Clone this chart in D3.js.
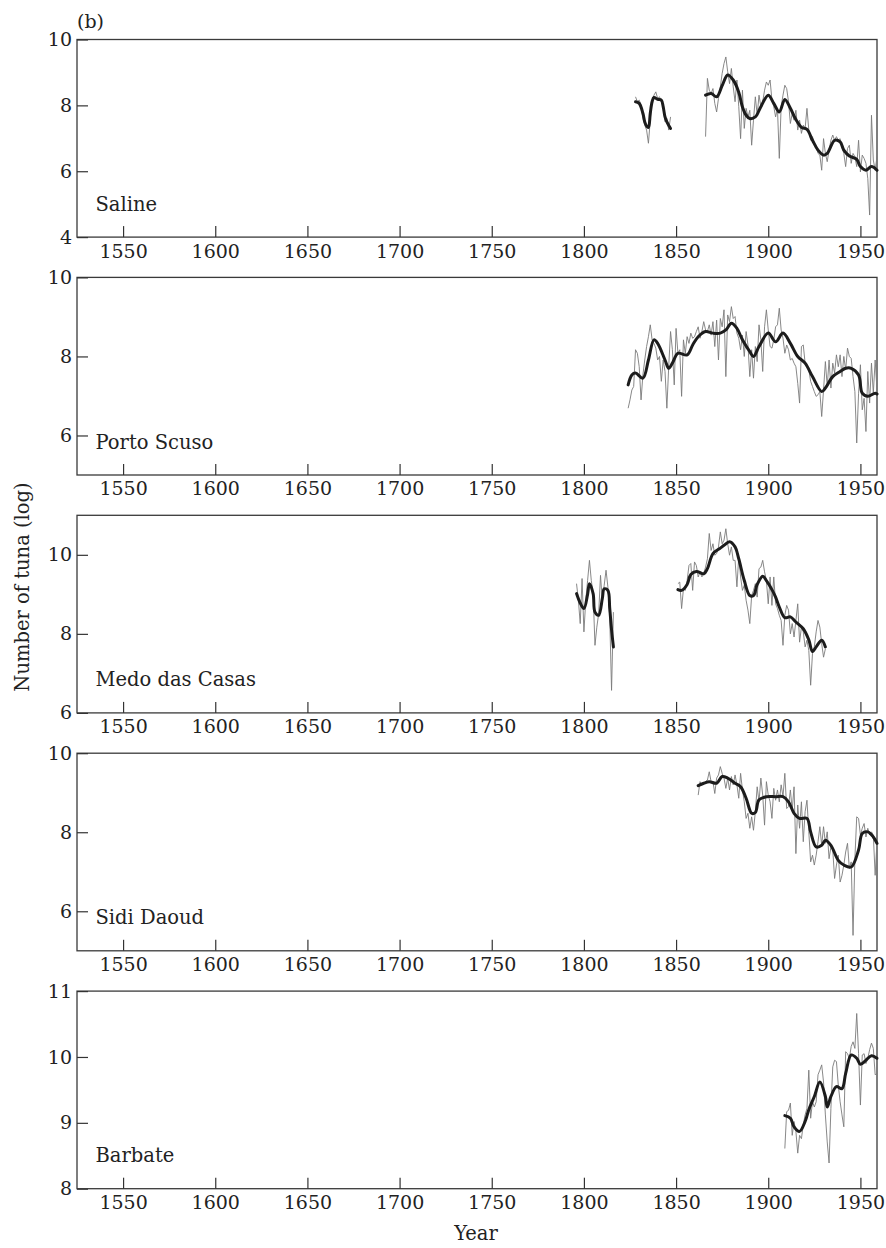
<!DOCTYPE html>
<html>
<head>
<meta charset="utf-8">
<script src="https://cdn.jsdelivr.net/npm/d3@7"></script>
<style>
  html, body { margin: 0; padding: 0; background: #fff; }
  svg { display: block; }
  text { font-family: "DejaVu Serif", "Liberation Serif", serif; fill: #222; }
</style>
</head>
<body>
<svg id="chart" width="886" height="1248"></svg>
<script>
// ---------------- DATA ----------------
const siteNames = ["Saline", "Porto Scuso", "Medo das Casas", "Sidi Daoud", "Barbate"];
const yDomains = [[4, 10], [5, 10], [6, 11], [5, 10], [8, 11]];
const yTickValues = [[4, 6, 8, 10], [6, 8, 10], [6, 8, 10], [6, 8, 10], [8, 9, 10, 11]];
const xTickValues = [1550, 1600, 1650, 1700, 1750, 1800, 1850, 1900, 1950];
const yearDomain = [1525, 1959];

// Saline — annual catches (log)
const salineStartA = 1828;
const salineAnnualA = [8.26, 8.11, 8.16, 8.01, 7.6, 7.4, 7.25, 6.85, 7.55, 8.16, 8.31, 8.41, 8.21, 8.26, 8.11, 7.96, 7.5, 7.6, 7.25, 7.65];
const salineStartB = 1866;
const salineAnnualB = [7.05, 8.82, 8.46, 8.36, 8.51, 8.06, 7.8, 8.21, 8.56, 8.97, 9.27, 9.47, 9.02, 8.66, 9.12, 8.56, 8.11, 8.77, 7.96, 6.99,
  8.46, 7.3, 7.91, 7.65, 7.85, 6.79, 7.55, 8.26, 7.7, 8.31, 7.96, 8.11, 8.46, 8.71, 8.61, 8.77, 8.16, 7.96, 7.65, 7.91,
  6.39, 7.96, 8.31, 8.61, 8.51, 8.11, 7.45, 7.75, 7.55, 7.85, 7.25, 7.55, 7.15, 7.4, 7.3, 7.91, 7.25, 6.94, 7.05, 6.84,
  6.74, 6.54, 6.49, 6.03, 6.99, 6.54, 6.29, 6.64, 6.94, 7.1, 6.94, 7.05, 6.94, 6.99, 6.74, 6.54, 6.14, 6.69, 6.79, 6.24,
  6.54, 6.44, 6.14, 6.94, 5.98, 6.49, 6.39, 6.24, 5.78, 4.67, 7.7, 6.34, 6.03, 6.44];
// Saline — smoothed trend
const salineSmoothYearsA = [1828, 1830, 1832, 1833, 1834, 1835, 1836, 1837, 1838, 1840, 1842, 1843, 1844, 1845, 1847];
const salineSmoothA = [8.11, 8.06, 7.76, 7.5, 7.37, 7.33, 7.76, 8.11, 8.24, 8.18, 8.16, 7.96, 7.65, 7.5, 7.3];
const salineSmoothYearsB = [1866, 1869, 1872, 1875, 1878, 1881, 1884, 1886, 1888, 1890, 1893, 1896, 1900, 1903, 1906, 1909, 1912, 1915, 1918, 1921, 1924, 1927, 1930, 1932, 1936, 1939, 1941, 1944, 1948, 1950, 1953, 1956, 1959];
const salineSmoothB = [8.31, 8.36, 8.26, 8.6, 8.92, 8.77, 8.4, 7.95, 7.7, 7.6, 7.65, 7.96, 8.31, 8.06, 7.8, 8.18, 7.91, 7.57, 7.33, 7.27, 6.94, 6.64, 6.49, 6.54, 6.94, 6.89, 6.64, 6.46, 6.36, 6.14, 6.03, 6.14, 6.03];

// Porto Scuso
const portoStart = 1824;
const portoAnnual = [6.69, 6.9, 7.15, 7.24, 8.17, 8.08, 7.74, 6.9, 7.53, 7.91, 8.25, 8.5, 8.8, 8.42, 8.33, 8.21, 7.91, 8.0, 7.37, 7.91,
  7.62, 6.69, 7.74, 8.63, 8.17, 7.28, 8.71, 8.08, 8.17, 6.99, 8.42, 8.08, 8.5, 8.33, 8.59, 8.46, 8.5, 8.63, 8.75, 8.46,
  8.63, 8.88, 8.67, 8.63, 8.8, 8.54, 8.88, 8.25, 8.92, 7.91, 8.96, 8.75, 9.18, 7.49, 9.05, 8.88, 9.26, 8.96, 9.01, 8.59,
  8.46, 8.17, 8.54, 8.0, 8.63, 8.29, 7.49, 8.17, 7.45, 8.25, 7.87, 8.8, 8.42, 7.62, 8.75, 9.18, 8.67, 8.25, 8.21, 8.42,
  8.75, 8.8, 9.22, 8.67, 8.46, 8.08, 8.29, 8.17, 7.91, 7.95, 7.83, 7.74, 7.32, 6.82, 8.25, 8.29, 7.83, 7.74, 7.66, 7.37,
  7.24, 7.11, 6.99, 7.03, 7.11, 6.48, 7.15, 7.87, 7.24, 7.91, 7.2, 7.83, 7.58, 8.04, 7.74, 8.04, 7.49, 8.0, 7.66, 8.21,
  8.0, 7.95, 7.49, 7.11, 5.81, 7.07, 7.79, 6.65, 6.94, 6.1, 7.62, 6.82, 7.83, 7.07, 7.91, 7.15];
const portoSmoothYears = [1824, 1826, 1828, 1832, 1835, 1838, 1840, 1844, 1846, 1848, 1851, 1856, 1859, 1862, 1866, 1870, 1874, 1877, 1880, 1883, 1886, 1890, 1892, 1895, 1900, 1904, 1908, 1912, 1916, 1920, 1924, 1929, 1931, 1935, 1939, 1942, 1945, 1949, 1951, 1954, 1958, 1959];
const portoSmooth = [7.28, 7.53, 7.58, 7.45, 7.91, 8.42, 8.33, 7.91, 7.7, 7.83, 8.08, 8.04, 8.29, 8.5, 8.63, 8.59, 8.59, 8.67, 8.84, 8.71, 8.42, 8.12, 8.0, 8.25, 8.59, 8.37, 8.59, 8.33, 8.0, 7.83, 7.49, 7.11, 7.2, 7.49, 7.62, 7.7, 7.7, 7.53, 7.07, 6.99, 7.07, 7.05];

// Medo das Casas
const medoStartA = 1796;
const medoAnnualA = [9.27, 8.85, 8.26, 9.4, 8.05, 8.85, 9.35, 9.86, 9.35, 9.02, 7.71, 8.17, 8.51, 9.48, 8.81, 9.23, 9.61, 9.19, 8.43, 6.57, 8.55];
const medoStartB = 1851;
const medoAnnualB = [9.27, 9.31, 8.64, 9.14, 9.1, 9.35, 9.73, 9.78, 9.1, 9.82, 9.73, 9.44, 9.57, 9.44, 9.52, 9.69, 9.9, 10.54, 10.11, 10.28,
  9.99, 10.03, 10.2, 10.58, 10.28, 10.37, 10.66, 10.28, 9.99, 10.2, 9.86, 9.86, 9.19, 9.95, 9.44, 9.1, 9.23, 8.85, 8.6, 8.26,
  8.97, 9.1, 9.27, 8.93, 9.65, 9.69, 9.86, 9.57, 9.35, 8.76, 9.44, 8.72, 9.44, 8.76, 8.64, 8.47, 8.34, 7.71, 8.47, 8.72,
  8.6, 8.0, 8.26, 7.92, 8.34, 8.76, 7.79, 8.17, 8.05, 7.67, 7.84, 7.58, 6.7, 7.5, 7.67, 8.05, 8.34, 8.17, 7.75, 7.41, 7.62];
const medoSmoothYearsA = [1796, 1798, 1800, 1802, 1803, 1805, 1806, 1808, 1810, 1811, 1813, 1814, 1815, 1816];
const medoSmoothA = [9.02, 8.78, 8.64, 9.0, 9.27, 9.02, 8.55, 8.47, 8.9, 9.14, 9.1, 8.65, 8.1, 7.67];
const medoSmoothYearsB = [1851, 1853, 1856, 1858, 1861, 1865, 1867, 1870, 1874, 1876, 1879, 1882, 1884, 1887, 1890, 1892, 1894, 1897, 1899, 1902, 1904, 1906, 1909, 1912, 1915, 1919, 1922, 1924, 1926, 1929, 1931];
const medoSmoothB = [9.12, 9.1, 9.25, 9.5, 9.58, 9.52, 9.65, 10.03, 10.17, 10.24, 10.33, 10.2, 9.9, 9.35, 8.97, 8.97, 9.25, 9.46, 9.35, 9.12, 8.93, 8.68, 8.41, 8.43, 8.3, 8.13, 7.85, 7.55, 7.67, 7.84, 7.67];

// Sidi Daoud
const sidiStart = 1862;
const sidiAnnual = [8.94, 9.28, 9.2, 9.24, 9.28, 9.32, 9.53, 9.28, 9.28, 8.98, 9.37, 9.45, 9.66, 9.49, 9.37, 9.11, 9.37, 9.07, 9.41, 9.2,
  9.45, 9.2, 8.86, 9.49, 9.07, 8.77, 8.35, 8.48, 8.1, 8.39, 8.05, 8.52, 9.15, 8.77, 9.37, 8.94, 8.18, 9.28, 8.94, 8.77,
  8.35, 9.11, 8.81, 9.07, 8.77, 9.2, 8.9, 9.49, 8.6, 8.65, 9.07, 8.56, 9.15, 7.46, 8.69, 8.1, 8.77, 7.76, 8.52, 8.81,
  8.01, 7.25, 7.42, 7.17, 7.42, 7.76, 8.14, 7.67, 8.14, 7.72, 8.01, 7.33, 7.63, 7.55, 6.83, 7.17, 7.42, 6.74, 6.91, 7.17,
  7.5, 7.72, 7.08, 7.25, 5.39, 7.33, 8.39, 8.35, 7.93, 8.1, 8.22, 7.88, 8.1, 7.93, 8.01, 7.93, 6.91, 7.76];
const sidiSmoothYears = [1862, 1865, 1868, 1872, 1875, 1878, 1882, 1885, 1888, 1891, 1893, 1895, 1899, 1904, 1908, 1911, 1914, 1917, 1921, 1923, 1926, 1929, 1931, 1934, 1938, 1941, 1945, 1949, 1951, 1954, 1957, 1959];
const sidiSmooth = [9.18, 9.24, 9.28, 9.24, 9.41, 9.37, 9.24, 9.15, 8.86, 8.48, 8.5, 8.82, 8.9, 8.9, 8.9, 8.77, 8.48, 8.35, 8.35, 8.01, 7.63, 7.67, 7.8, 7.67, 7.29, 7.17, 7.12, 7.55, 7.97, 8.01, 7.88, 7.72];

// Barbate
const barbateStart = 1909;
const barbateAnnual = [8.61, 9.17, 9.19, 9.3, 8.81, 9.02, 8.87, 8.54, 8.81, 8.76, 8.97, 9.12, 9.22, 9.8, 9.07, 9.32, 9.24, 9.32, 9.73, 9.8,
  9.88, 9.62, 9.12, 8.71, 8.39, 9.22, 9.85, 9.95, 9.93, 9.57, 9.32, 9.12, 8.94, 10.08, 10.05, 9.98, 10.16, 10.23, 10.13, 10.66,
  10.05, 9.27, 10.03, 10.05, 9.9, 9.98, 10.11, 10.21, 10.13, 9.73, 9.75];
const barbateSmoothYears = [1909, 1912, 1914, 1917, 1920, 1922, 1925, 1928, 1931, 1932, 1934, 1937, 1940, 1942, 1945, 1948, 1950, 1953, 1956, 1959];
const barbateSmooth = [9.11, 9.07, 8.94, 8.87, 9.02, 9.2, 9.4, 9.62, 9.4, 9.24, 9.4, 9.55, 9.52, 9.75, 10.03, 9.98, 9.89, 9.95, 10.02, 9.98];

// ---------------- assembly ----------------
const annualBySite = [
  [[salineStartA, salineAnnualA], [salineStartB, salineAnnualB]],
  [[portoStart, portoAnnual]],
  [[medoStartA, medoAnnualA], [medoStartB, medoAnnualB]],
  [[sidiStart, sidiAnnual]],
  [[barbateStart, barbateAnnual]]
];
const smoothBySite = [
  [[salineSmoothYearsA, salineSmoothA], [salineSmoothYearsB, salineSmoothB]],
  [[portoSmoothYears, portoSmooth]],
  [[medoSmoothYearsA, medoSmoothA], [medoSmoothYearsB, medoSmoothB]],
  [[sidiSmoothYears, sidiSmooth]],
  [[barbateSmoothYears, barbateSmooth]]
];

// ---------------- drawing ----------------
const svg = d3.select("#chart");
const left = 77, right = 877;
const panelTop0 = 39.5, panelStep = 237.9, panelH = 197.6;
const x = d3.scaleLinear().domain(yearDomain).range([left, right]);

const tickFont = 19, labelFont = 19.5;

siteNames.forEach((name, i) => {
  const top = panelTop0 + i * panelStep;
  const bottom = top + panelH;
  const y = d3.scaleLinear().domain(yDomains[i]).range([bottom, top]);
  const g = svg.append("g");

  // frame
  g.append("rect")
    .attr("x", left).attr("y", top)
    .attr("width", right - left).attr("height", panelH)
    .attr("fill", "none").attr("stroke", "#3a3a3a").attr("stroke-width", 1.3);

  // x axis
  const xa = g.append("g").attr("transform", `translate(0,${bottom})`)
    .call(d3.axisBottom(x).tickValues(xTickValues).tickFormat(d3.format("d"))
      .tickSizeInner(-11).tickSizeOuter(0).tickPadding(7));
  xa.select(".domain").remove();
  xa.selectAll(".tick line").attr("stroke", "#333").attr("stroke-width", 1.2);
  xa.selectAll(".tick text").attr("font-size", tickFont).attr("font-family", "DejaVu Serif").attr("fill", "#222");

  // y axis
  const ya = g.append("g").attr("transform", `translate(${left},0)`)
    .call(d3.axisLeft(y).tickValues(yTickValues[i]).tickFormat(d3.format("d"))
      .tickSizeInner(-11).tickSizeOuter(0).tickPadding(5));
  ya.select(".domain").remove();
  ya.selectAll(".tick line").attr("stroke", "#333").attr("stroke-width", 1.2);
  ya.selectAll(".tick text").attr("font-size", tickFont).attr("font-family", "DejaVu Serif").attr("fill", "#222");

  // annual (thin grey)
  annualBySite[i].forEach(([start, vals]) => {
    const line = d3.line().x((d, k) => x(start + k)).y(d => y(d));
    g.append("path").attr("d", line(vals))
      .attr("fill", "none").attr("stroke", "#7a7a7a").attr("stroke-width", 0.9)
      .attr("stroke-linejoin", "round");
  });

  // smoothed (thick black)
  smoothBySite[i].forEach(([years, vals]) => {
    const pts = years.map((yr, k) => [yr, vals[k]]);
    const line = d3.line().x(d => x(d[0])).y(d => y(d[1])).curve(d3.curveCatmullRom.alpha(0.5));
    g.append("path").attr("d", line(pts))
      .attr("fill", "none").attr("stroke", "#1c1c1c").attr("stroke-width", 3)
      .attr("stroke-linejoin", "round").attr("stroke-linecap", "round");
  });

  // site label
  g.append("text").attr("x", 95.5).attr("y", bottom - 26.5)
    .attr("font-size", labelFont).text(name);
});

// panel tag
svg.append("text").attr("x", 77).attr("y", 28).attr("font-size", 19).text("(b)");

// axis titles
svg.append("text")
  .attr("transform", "translate(28.5,587) rotate(-90)")
  .attr("text-anchor", "middle").attr("font-size", labelFont)
  .text("Number of tuna (log)");

svg.append("text").attr("x", 476).attr("y", 1240)
  .attr("text-anchor", "middle").attr("font-size", labelFont).text("Year");
</script>
</body>
</html>
